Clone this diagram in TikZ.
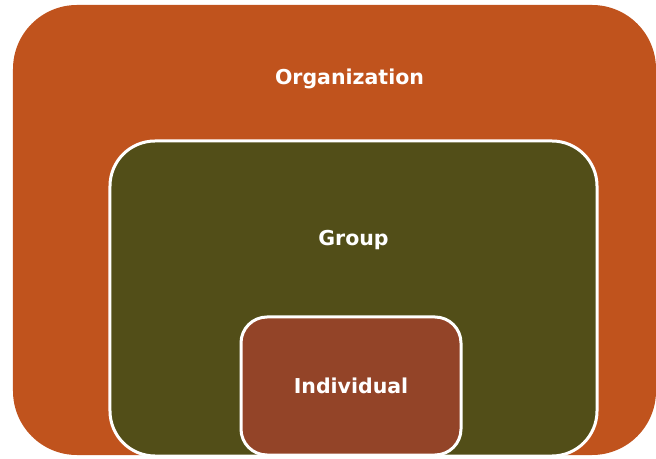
\documentclass[tikz,border=0pt]{standalone}
\usepackage{fontspec}
\setmainfont{DejaVu Sans}
\usetikzlibrary{positioning}
\definecolor{orgcol}{RGB}{192,83,29}
\definecolor{groupcol}{RGB}{82,78,24}
\definecolor{indivcol}{RGB}{147,68,40}
\tikzset{
  level/.style={rectangle, inner sep=0pt, outer sep=0pt},
  tag/.style={text=white, font=\fontsize{20.5bp}{24bp}\selectfont\bfseries, inner sep=0pt}
}
\begin{document}
\begin{tikzpicture}[x=1bp, y=-1bp]
            \useasboundingbox (0,0) rectangle (656,459);
            % --- Cajas anidadas ---
            \node (org) [level, fill=orgcol, rounded corners=64bp, minimum width=643bp, minimum height=450bp] at (334.5,230) {};
            \node (group) [level, fill=groupcol, draw=white, line width=3bp, rounded corners=45bp, minimum width=487bp, minimum height=315bp] at (353.5,298.5) {};
            \node (indiv) [level, fill=indivcol, draw=white, line width=3bp, rounded corners=26bp, minimum width=220bp, minimum height=138bp] at (351,386) {};

            % --- Etiquetas ---
            \node (orglabel) [tag, below=64bp of org.north, xshift=15bp] {Organization};
            \node (grouplabel) [tag, below=89bp of group.north] {Group};
            \node (indivlabel) [tag] at (indiv.center) {Individual};
        \end{tikzpicture}
\end{document}
